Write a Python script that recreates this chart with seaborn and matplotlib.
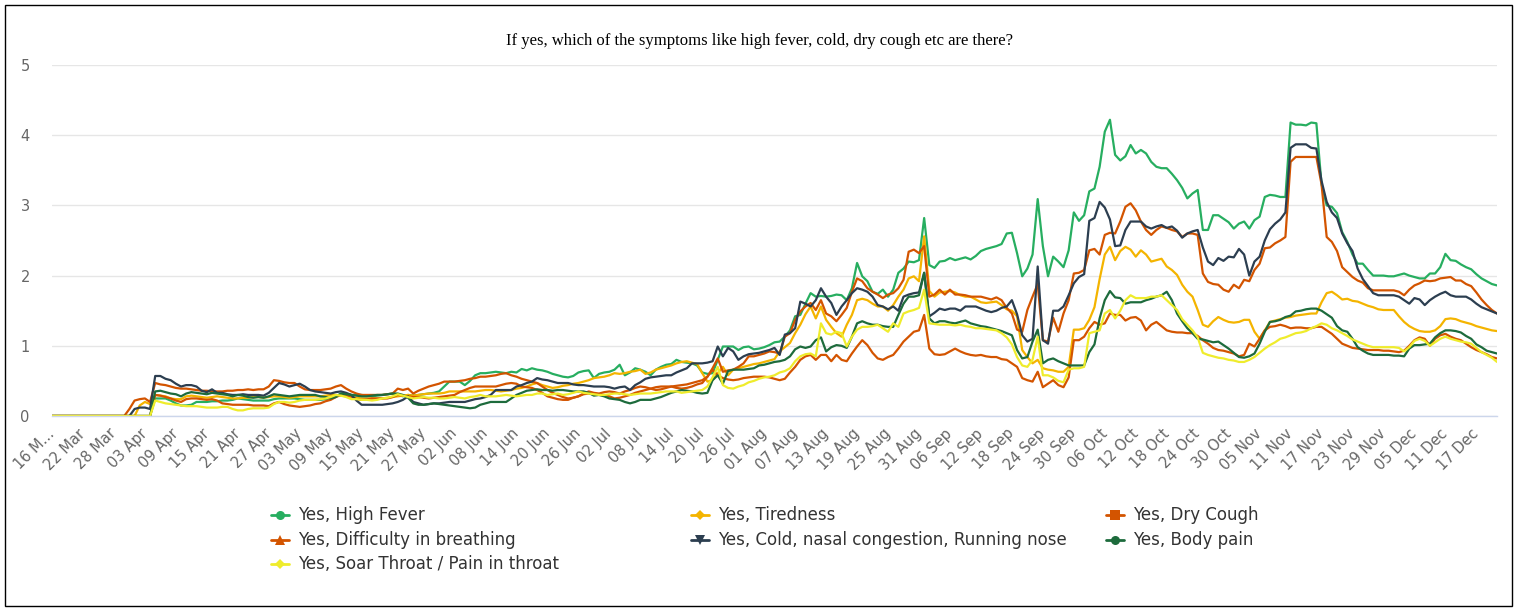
import numpy as np
import pandas as pd
import matplotlib
matplotlib.use("Agg")
import matplotlib.pyplot as plt
from matplotlib.lines import Line2D
from matplotlib.patches import Rectangle
import seaborn as sns

title = "If yes, which of the symptoms like high fever, cold, dry cough etc are there?"
start_date = "2020-03-16"
n_days = 281

series_names = ["Yes, High Fever", "Yes, Tiredness", "Yes, Dry Cough",
                "Yes, Difficulty in breathing", "Yes, Cold, nasal congestion, Running nose",
                "Yes, Body pain", "Yes, Soar Throat / Pain in throat"]

high_fever = [
0,0,0,0,0,0,0,0,0,0,
0,0,0,0,0,0,0,0,0,0,
0.25,0.25,0.25,0.22,0.18,0.15,0.15,0.16,0.20,0.20,
0.20,0.21,0.21,0.22,0.22,0.23,0.25,0.24,0.23,0.22,
0.22,0.22,0.22,0.24,0.25,0.25,0.25,0.25,0.24,0.23,
0.23,0.23,0.23,0.24,0.25,0.28,0.32,0.31,0.30,0.30,
0.30,0.29,0.28,0.29,0.30,0.31,0.32,0.30,0.28,0.30,
0.29,0.30,0.31,0.32,0.33,0.35,0.42,0.49,0.49,0.49,
0.44,0.50,0.58,0.61,0.61,0.62,0.63,0.62,0.61,0.63,
0.62,0.67,0.65,0.68,0.66,0.65,0.63,0.60,0.58,0.56,
0.55,0.57,0.62,0.64,0.65,0.54,0.60,0.62,0.63,0.66,
0.73,0.58,0.62,0.68,0.66,0.63,0.58,0.66,0.70,0.73,
0.74,0.80,0.77,0.76,0.75,0.72,0.62,0.60,0.61,0.80,
0.99,0.99,0.99,0.94,0.98,0.99,0.95,0.96,0.98,1.01,
1.05,1.06,1.13,1.22,1.42,1.44,1.60,1.75,1.70,1.71,
1.70,1.71,1.73,1.72,1.65,1.82,2.18,1.99,1.92,1.77,
1.74,1.80,1.70,1.80,2.04,2.10,2.20,2.19,2.22,2.82,
2.15,2.11,2.20,2.21,2.25,2.22,2.24,2.26,2.23,2.28,
2.35,2.38,2.40,2.42,2.45,2.60,2.61,2.32,1.99,2.10,
2.30,3.09,2.42,1.99,2.27,2.20,2.12,2.36,2.90,2.78,
2.86,3.20,3.24,3.55,4.05,4.22,3.72,3.64,3.70,3.86,
3.74,3.79,3.74,3.62,3.55,3.53,3.53,3.45,3.36,3.25,
3.10,3.17,3.22,2.65,2.65,2.86,2.86,2.81,2.76,2.67,
2.74,2.77,2.67,2.79,2.84,3.12,3.15,3.14,3.12,3.12,
4.18,4.15,4.15,4.14,4.18,4.17,3.30,3.00,2.98,2.89,
2.62,2.48,2.30,2.17,2.17,2.08,2.00,2.00,2.00,1.99,
1.99,2.01,2.03,2.00,1.98,1.96,1.96,2.03,2.03,2.12,
2.31,2.22,2.21,2.16,2.12,2.09,2.02,1.96,1.92,1.88,
1.86]

tiredness = [
0,0,0,0,0,0,0,0,0,0,
0,0,0,0,0,0,0,0.15,0.20,0.17,
0.30,0.29,0.28,0.25,0.24,0.24,0.28,0.29,0.28,0.27,
0.26,0.27,0.28,0.27,0.26,0.25,0.25,0.26,0.26,0.27,
0.27,0.26,0.27,0.28,0.28,0.27,0.26,0.27,0.28,0.28,
0.28,0.28,0.28,0.29,0.30,0.30,0.29,0.28,0.27,0.26,
0.25,0.25,0.25,0.25,0.25,0.26,0.27,0.28,0.29,0.30,
0.29,0.30,0.31,0.32,0.32,0.32,0.33,0.35,0.35,0.35,
0.35,0.35,0.35,0.36,0.37,0.37,0.36,0.35,0.36,0.37,
0.39,0.40,0.42,0.45,0.47,0.44,0.42,0.40,0.41,0.43,
0.44,0.46,0.47,0.49,0.51,0.54,0.55,0.56,0.58,0.61,
0.60,0.61,0.63,0.64,0.66,0.60,0.62,0.66,0.68,0.70,
0.72,0.75,0.77,0.78,0.76,0.74,0.61,0.49,0.51,0.61,
0.70,0.58,0.66,0.68,0.70,0.72,0.74,0.75,0.77,0.79,
0.81,0.92,0.98,1.04,1.18,1.30,1.45,1.56,1.39,1.56,
1.37,1.27,1.18,1.13,1.30,1.44,1.65,1.67,1.65,1.60,
1.56,1.56,1.50,1.58,1.70,1.80,1.96,1.99,1.92,2.56,
1.78,1.70,1.76,1.77,1.78,1.76,1.72,1.70,1.70,1.66,
1.62,1.61,1.62,1.63,1.58,1.52,1.50,1.42,0.94,0.84,
0.75,0.80,0.68,0.66,0.65,0.63,0.63,0.70,1.23,1.23,
1.25,1.37,1.55,1.95,2.30,2.41,2.22,2.35,2.41,2.37,
2.27,2.36,2.30,2.20,2.22,2.24,2.13,2.08,2.01,1.87,
1.77,1.70,1.51,1.30,1.27,1.35,1.41,1.37,1.34,1.33,
1.34,1.37,1.37,1.20,1.10,1.22,1.34,1.36,1.38,1.40,
1.41,1.43,1.44,1.45,1.46,1.46,1.62,1.75,1.77,1.72,
1.66,1.67,1.64,1.63,1.60,1.57,1.55,1.52,1.51,1.51,
1.51,1.42,1.34,1.28,1.24,1.21,1.20,1.20,1.22,1.28,
1.38,1.39,1.38,1.35,1.33,1.31,1.28,1.26,1.24,1.22,
1.21]

dry_cough = [
0,0,0,0,0,0,0,0,0,0,
0,0,0,0,0,0.10,0.22,0.24,0.25,0.20,
0.47,0.45,0.44,0.42,0.40,0.39,0.39,0.38,0.37,0.36,
0.36,0.35,0.35,0.35,0.36,0.36,0.37,0.37,0.38,0.37,
0.38,0.38,0.42,0.51,0.50,0.48,0.47,0.47,0.42,0.38,
0.37,0.37,0.37,0.38,0.39,0.42,0.44,0.39,0.35,0.32,
0.30,0.30,0.30,0.30,0.30,0.31,0.32,0.39,0.37,0.39,
0.32,0.36,0.39,0.42,0.44,0.46,0.49,0.49,0.49,0.50,
0.51,0.53,0.54,0.56,0.56,0.57,0.58,0.60,0.61,0.58,
0.56,0.53,0.51,0.49,0.47,0.42,0.37,0.33,0.30,0.27,
0.25,0.26,0.28,0.32,0.35,0.33,0.32,0.34,0.35,0.34,
0.32,0.35,0.37,0.40,0.42,0.41,0.39,0.41,0.42,0.42,
0.42,0.43,0.44,0.45,0.47,0.49,0.51,0.56,0.68,0.82,
0.63,0.65,0.66,0.70,0.75,0.85,0.85,0.87,0.89,0.92,
0.91,0.89,1.13,1.18,1.37,1.49,1.56,1.61,1.51,1.65,
1.46,1.42,1.35,1.44,1.54,1.77,1.96,1.92,1.82,1.77,
1.73,1.68,1.73,1.75,1.82,1.94,2.34,2.37,2.32,2.42,
1.70,1.73,1.80,1.73,1.80,1.73,1.73,1.72,1.70,1.70,
1.70,1.68,1.66,1.69,1.65,1.54,1.46,1.23,1.20,1.51,
1.70,1.88,1.08,1.06,1.40,1.20,1.46,1.65,2.03,2.04,
2.08,2.36,2.38,2.30,2.58,2.61,2.60,2.77,2.98,3.03,
2.93,2.77,2.65,2.58,2.65,2.70,2.68,2.65,2.63,2.55,
2.60,2.60,2.58,2.03,1.91,1.88,1.87,1.80,1.77,1.87,
1.82,1.94,1.92,2.08,2.17,2.39,2.40,2.46,2.50,2.55,
3.62,3.69,3.69,3.69,3.69,3.69,3.30,2.55,2.48,2.35,
2.12,2.05,1.98,1.93,1.90,1.82,1.79,1.79,1.79,1.79,
1.79,1.77,1.72,1.80,1.86,1.89,1.93,1.92,1.93,1.96,
1.97,1.98,1.93,1.93,1.88,1.85,1.76,1.66,1.58,1.51,
1.46]

difficulty = [
0,0,0,0,0,0,0,0,0,0,
0,0,0,0,0,0,0,0,0,0,
0.30,0.29,0.27,0.25,0.22,0.20,0.24,0.25,0.25,0.24,
0.23,0.24,0.22,0.18,0.17,0.16,0.16,0.16,0.16,0.15,
0.15,0.15,0.14,0.18,0.20,0.17,0.15,0.14,0.13,0.14,
0.15,0.17,0.18,0.21,0.23,0.27,0.30,0.29,0.28,0.24,
0.23,0.24,0.25,0.25,0.25,0.25,0.27,0.30,0.29,0.28,
0.27,0.27,0.26,0.25,0.26,0.27,0.28,0.29,0.30,0.34,
0.37,0.40,0.42,0.42,0.42,0.42,0.42,0.44,0.46,0.47,
0.46,0.42,0.41,0.40,0.37,0.33,0.28,0.26,0.24,0.23,
0.23,0.26,0.28,0.31,0.32,0.31,0.30,0.30,0.28,0.25,
0.26,0.28,0.30,0.33,0.35,0.37,0.39,0.37,0.38,0.40,
0.42,0.40,0.39,0.40,0.42,0.45,0.47,0.56,0.66,0.58,
0.54,0.52,0.51,0.52,0.54,0.55,0.56,0.56,0.56,0.55,
0.53,0.51,0.53,0.62,0.70,0.80,0.85,0.87,0.80,0.87,
0.87,0.78,0.87,0.80,0.78,0.89,0.99,1.08,1.01,0.90,
0.82,0.80,0.84,0.87,0.96,1.06,1.13,1.20,1.22,1.44,
0.96,0.88,0.87,0.88,0.92,0.96,0.92,0.89,0.87,0.86,
0.87,0.85,0.84,0.84,0.81,0.80,0.75,0.70,0.54,0.51,
0.49,0.63,0.41,0.46,0.51,0.44,0.41,0.55,1.08,1.08,
1.13,1.25,1.34,1.30,1.32,1.46,1.44,1.44,1.36,1.40,
1.41,1.36,1.22,1.30,1.34,1.28,1.22,1.20,1.19,1.19,
1.18,1.18,1.14,1.08,1.03,0.97,0.94,0.93,0.91,0.89,
0.85,0.87,1.03,0.99,1.10,1.22,1.27,1.28,1.30,1.28,
1.25,1.26,1.26,1.25,1.25,1.27,1.27,1.22,1.17,1.10,
1.03,1.00,0.97,0.96,0.95,0.94,0.94,0.94,0.93,0.93,
0.92,0.91,0.93,1.00,1.08,1.12,1.10,1.00,1.10,1.15,
1.17,1.13,1.10,1.08,1.03,0.98,0.94,0.91,0.88,0.84,
0.82]

cold = [
0,0,0,0,0,0,0,0,0,0,
0,0,0,0,0,0,0.10,0.12,0.12,0.10,
0.57,0.57,0.53,0.51,0.46,0.42,0.44,0.44,0.42,0.36,
0.34,0.38,0.33,0.33,0.31,0.30,0.30,0.31,0.30,0.30,
0.30,0.29,0.33,0.40,0.47,0.45,0.42,0.44,0.46,0.42,
0.37,0.35,0.34,0.33,0.32,0.34,0.35,0.33,0.30,0.22,
0.16,0.16,0.16,0.16,0.16,0.17,0.18,0.20,0.23,0.28,
0.20,0.18,0.16,0.17,0.18,0.18,0.19,0.20,0.20,0.20,
0.20,0.22,0.24,0.25,0.27,0.30,0.37,0.37,0.37,0.37,
0.42,0.44,0.47,0.49,0.54,0.52,0.51,0.49,0.47,0.47,
0.47,0.45,0.44,0.44,0.43,0.42,0.42,0.42,0.41,0.39,
0.41,0.42,0.37,0.44,0.48,0.53,0.55,0.56,0.57,0.58,
0.58,0.62,0.65,0.68,0.75,0.75,0.75,0.76,0.78,0.99,
0.85,0.97,0.92,0.80,0.85,0.88,0.89,0.90,0.92,0.94,
0.97,0.87,1.16,1.18,1.25,1.63,1.60,1.56,1.65,1.82,
1.70,1.61,1.44,1.56,1.65,1.75,1.82,1.80,1.77,1.70,
1.58,1.56,1.52,1.56,1.50,1.70,1.73,1.75,1.76,2.04,
1.42,1.47,1.53,1.51,1.53,1.53,1.50,1.56,1.56,1.56,
1.53,1.50,1.48,1.50,1.54,1.56,1.65,1.45,1.15,1.06,
1.10,2.13,1.08,1.03,1.50,1.50,1.56,1.72,1.89,1.98,
2.02,2.78,2.82,3.05,2.97,2.80,2.42,2.43,2.65,2.77,
2.77,2.77,2.70,2.67,2.70,2.72,2.68,2.70,2.64,2.54,
2.60,2.63,2.65,2.40,2.20,2.15,2.25,2.21,2.27,2.26,
2.38,2.30,2.00,2.20,2.27,2.50,2.66,2.74,2.80,2.90,
3.82,3.87,3.87,3.87,3.82,3.81,3.35,3.05,2.90,2.82,
2.60,2.46,2.35,2.10,1.95,1.85,1.75,1.72,1.72,1.72,
1.72,1.70,1.65,1.60,1.68,1.66,1.58,1.65,1.70,1.74,
1.77,1.72,1.70,1.70,1.70,1.66,1.60,1.55,1.52,1.49,
1.46]

body_pain = [
0,0,0,0,0,0,0,0,0,0,
0,0,0,0,0,0,0,0,0,0,
0.35,0.36,0.34,0.32,0.31,0.28,0.32,0.34,0.33,0.32,
0.31,0.33,0.32,0.31,0.30,0.28,0.30,0.29,0.27,0.26,
0.27,0.26,0.28,0.31,0.30,0.29,0.28,0.29,0.30,0.30,
0.30,0.30,0.28,0.27,0.25,0.27,0.32,0.31,0.30,0.29,
0.28,0.28,0.29,0.30,0.30,0.31,0.32,0.32,0.30,0.26,
0.18,0.16,0.16,0.17,0.18,0.17,0.16,0.15,0.14,0.13,
0.12,0.11,0.12,0.16,0.18,0.20,0.20,0.20,0.20,0.25,
0.30,0.33,0.36,0.37,0.38,0.37,0.37,0.36,0.37,0.37,
0.36,0.35,0.35,0.35,0.33,0.29,0.30,0.28,0.25,0.24,
0.23,0.20,0.18,0.20,0.23,0.23,0.23,0.25,0.27,0.30,
0.33,0.35,0.37,0.36,0.35,0.33,0.32,0.33,0.51,0.58,
0.46,0.64,0.66,0.66,0.66,0.67,0.68,0.72,0.73,0.75,
0.77,0.78,0.80,0.85,0.95,0.99,0.97,0.99,1.08,1.12,
0.92,0.98,1.01,1.00,0.97,1.13,1.32,1.35,1.32,1.30,
1.30,1.28,1.27,1.27,1.44,1.60,1.70,1.70,1.72,2.04,
1.39,1.32,1.35,1.35,1.33,1.32,1.34,1.36,1.32,1.30,
1.28,1.27,1.25,1.23,1.21,1.18,1.15,0.94,0.82,0.84,
1.06,1.23,0.75,0.80,0.82,0.78,0.75,0.72,0.72,0.72,
0.72,0.91,1.02,1.39,1.65,1.78,1.69,1.68,1.60,1.62,
1.62,1.62,1.65,1.67,1.70,1.72,1.77,1.65,1.46,1.35,
1.25,1.18,1.10,1.09,1.07,1.05,1.06,1.01,0.96,0.90,
0.84,0.83,0.85,0.89,1.03,1.20,1.34,1.35,1.37,1.41,
1.43,1.49,1.50,1.52,1.53,1.53,1.50,1.45,1.40,1.28,
1.22,1.20,1.10,0.98,0.93,0.89,0.87,0.87,0.87,0.87,
0.86,0.86,0.85,0.96,1.01,1.01,1.02,1.03,1.12,1.18,
1.22,1.22,1.21,1.19,1.14,1.10,1.02,0.98,0.93,0.91,
0.89]

soar_throat = [
0,0,0,0,0,0,0,0,0,0,
0,0,0,0,0,0,0,0,0,0,
0.22,0.20,0.18,0.17,0.16,0.15,0.14,0.14,0.14,0.13,
0.12,0.12,0.12,0.13,0.13,0.10,0.08,0.08,0.10,0.11,
0.11,0.11,0.12,0.17,0.20,0.20,0.19,0.20,0.22,0.23,
0.23,0.23,0.24,0.25,0.27,0.30,0.29,0.27,0.24,0.24,
0.23,0.23,0.22,0.23,0.25,0.26,0.28,0.31,0.29,0.27,
0.25,0.26,0.27,0.26,0.26,0.25,0.25,0.26,0.27,0.26,
0.25,0.27,0.28,0.30,0.28,0.28,0.28,0.29,0.30,0.29,
0.28,0.29,0.30,0.30,0.32,0.32,0.30,0.31,0.32,0.30,
0.31,0.33,0.35,0.33,0.32,0.31,0.30,0.30,0.31,0.32,
0.32,0.31,0.30,0.31,0.32,0.32,0.32,0.33,0.34,0.35,
0.35,0.35,0.33,0.34,0.35,0.36,0.37,0.42,0.55,0.70,
0.44,0.40,0.39,0.42,0.44,0.48,0.50,0.53,0.55,0.56,
0.58,0.62,0.64,0.68,0.78,0.85,0.88,0.89,0.85,1.32,
1.18,1.16,1.20,1.18,0.99,1.13,1.23,1.27,1.27,1.28,
1.30,1.25,1.20,1.32,1.27,1.46,1.49,1.51,1.54,1.80,
1.32,1.31,1.30,1.30,1.30,1.29,1.30,1.28,1.27,1.25,
1.25,1.24,1.23,1.22,1.18,1.12,1.02,0.84,0.72,0.70,
0.80,1.13,0.58,0.58,0.55,0.50,0.48,0.66,0.68,0.68,
0.70,1.18,1.20,1.22,1.46,1.51,1.39,1.50,1.65,1.72,
1.68,1.68,1.68,1.70,1.70,1.72,1.65,1.58,1.51,1.38,
1.30,1.22,1.12,0.90,0.87,0.85,0.83,0.82,0.80,0.79,
0.77,0.77,0.80,0.84,0.90,0.96,1.01,1.05,1.10,1.12,
1.15,1.18,1.19,1.21,1.25,1.28,1.32,1.30,1.25,1.22,
1.18,1.14,1.09,1.06,1.03,1.00,0.98,0.98,0.98,0.98,
0.98,0.97,0.92,0.98,1.07,1.10,1.07,1.00,1.05,1.10,
1.13,1.10,1.08,1.06,1.05,1.03,0.97,0.91,0.87,0.83,
0.77]

series_colors = ["#27ae60", "#f4b400", "#d35400", "#d35400",
                 "#2c3e50", "#1d6b3c", "#efec2c"]
series_markers = ["o", "D", "s", "^", "v", "o", "D"]
y_ticks = [0, 1, 2, 3, 4, 5]
tick_step = 6

all_values = [high_fever, tiredness, dry_cough, difficulty, cold, body_pain, soar_throat]
for name, vals in zip(series_names, all_values):
    assert len(vals) == n_days, (name, len(vals))

dates = pd.date_range(start_date, periods=n_days, freq="D")
df = pd.concat([
    pd.DataFrame({"day": np.arange(n_days), "value": vals, "series": name})
    for name, vals in zip(series_names, all_values)
], ignore_index=True)

sns.set_theme(style="white")
plt.rcParams["font.family"] = ["DejaVu Sans"]

W, H = 1520, 608
fig = plt.figure(figsize=(W / 100, H / 100), dpi=100)
fig.patch.set_facecolor("white")

left, right, top, bottom = 52, 1497, 65, 416
ax = fig.add_axes([left / W, 1 - bottom / H, (right - left) / W, (bottom - top) / H])

sns.lineplot(data=df, x="day", y="value", hue="series", hue_order=series_names,
             palette=dict(zip(series_names, series_colors)), linewidth=1.6,
             legend=False, ax=ax, estimator=None, sort=False)
for ln in ax.get_lines():
    ln.set_solid_joinstyle("round")
    ln.set_solid_capstyle("round")

ax.set_xlim(0, n_days - 1)
ax.set_ylim(0, 5)
ax.set_xlabel("")
ax.set_ylabel("")
ax.set_yticks(y_ticks)
ax.set_yticklabels([str(t) for t in y_ticks])
ax.yaxis.grid(True, color="#e6e6e6", linewidth=1.0)
ax.xaxis.grid(False)
ax.set_axisbelow(True)
for s in ["left", "right", "top"]:
    ax.spines[s].set_visible(False)
ax.spines["bottom"].set_color("#ccd6eb")
ax.spines["bottom"].set_linewidth(1.0)

tick_pos = np.arange(0, n_days, tick_step)
tick_labels = [d.strftime("%d %b") for d in dates[tick_pos]]
tick_labels[0] = tick_labels[0][:4] + "..."
ax.set_xticks(tick_pos)
ax.set_xticklabels(tick_labels, rotation=45, ha="right", va="center",
                   rotation_mode="anchor", color="#666666", fontsize=10.5)
ax.tick_params(axis="x", length=0, pad=11)
ax.tick_params(axis="y", length=0, pad=16, labelcolor="#666666", labelsize=10.5)

fig.text(0.5, 1 - 41 / H, title, ha="center", va="center",
         family="Liberation Serif", fontsize=12, color="black")

# legend (row-major like the original)
col_x = [280, 700, 1115]
row_y = [515, 540, 564]
fx = lambda px: px / W
fy = lambda py: 1 - py / H
for k, (name, col, mk) in enumerate(zip(series_names, series_colors, series_markers)):
    cx = col_x[k % 3]
    cy = row_y[k // 3]
    fig.add_artist(Line2D([fx(cx - 9), fx(cx + 9)], [fy(cy), fy(cy)], color=col,
                          linewidth=2, transform=fig.transFigure))
    fig.add_artist(Line2D([fx(cx)], [fy(cy)], color=col, marker=mk,
                          markersize=6.5 if mk != "D" else 5.5,
                          markeredgewidth=0, linestyle="none", transform=fig.transFigure))
    fig.text(fx(cx + 18), fy(cy), name, ha="left", va="center",
             fontsize=12, color="#333333")

fig.add_artist(Rectangle((5 / W, 2 / H), 1507 / W, 601 / H, fill=False,
                         edgecolor="black", linewidth=1.0, transform=fig.transFigure))

fig.savefig("out.png", dpi=100, facecolor="white")
